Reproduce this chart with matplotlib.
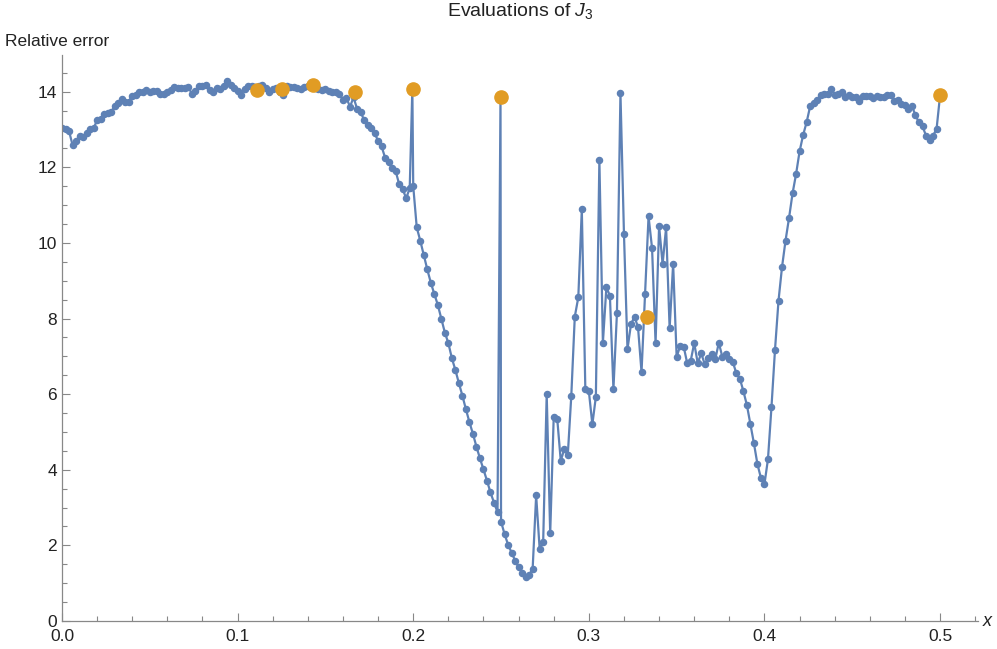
import numpy as np
import matplotlib
matplotlib.use('Agg')
import matplotlib.pyplot as plt
from matplotlib.ticker import MultipleLocator, FormatStrFormatter

plt.rcParams['font.family'] = ['Liberation Sans', 'DejaVu Sans']
plt.rcParams['mathtext.fontset'] = 'custom'
plt.rcParams['mathtext.rm'] = 'Liberation Sans'
plt.rcParams['mathtext.it'] = 'Liberation Sans:italic'

# blue samples on a 0.002 grid from 0 to 0.5
x_grid = np.linspace(0, 0.5, 251)
y_grid = [
    13.03, 13.0, 12.96, 12.59, 12.7, 12.83, 12.79, 12.9, 13.0, 13.03,
    13.25, 13.27, 13.41, 13.43, 13.46, 13.62, 13.7, 13.8, 13.74, 13.74,
    13.89, 13.92, 13.98, 13.98, 14.05, 13.98, 14.02, 14.03, 13.93, 13.94,
    14.0, 14.05, 14.12, 14.1, 14.1, 14.1, 14.12, 13.94, 14.03, 14.15,
    14.14, 14.18, 14.05, 13.99, 14.1, 14.08, 14.15, 14.27, 14.17, 14.1,
    14.02, 13.92, 14.08, 14.15, 14.15, 14.12, 14.16, 14.18, 14.11, 13.98,
    14.06, 14.1, 14.0, 13.9, 14.15, 14.12, 14.13, 14.1, 14.06, 14.12,
    14.14, 14.12, 14.1, 14.06, 14.05, 14.08, 14.02, 14.0, 13.98, 13.95,
    13.78, 13.83, 13.6, 13.85, 13.55, 13.47, 13.25, 13.12, 13.03, 12.9,
    12.7, 12.55, 12.25, 12.15, 11.97, 11.9, 11.55, 11.42, 11.18, 11.45,
    11.5, 10.41, 10.06, 9.68, 9.3, 8.95, 8.65, 8.36, 8.0, 7.63,
    7.35, 6.95, 6.64, 6.29, 5.96, 5.6, 5.26, 4.95, 4.61, 4.3,
    4.01, 3.71, 3.4, 3.13, 2.88, 2.63, 2.30, 2.02, 1.81, 1.6,
    1.42, 1.28, 1.17, 1.22, 1.38, 3.32, 1.9, 2.1, 6.0, 2.32,
    5.4, 5.35, 4.24, 4.54, 4.38, 5.95, 8.05, 8.56, 10.89, 6.14,
    6.08, 5.2, 5.93, 12.2, 7.36, 8.83, 8.6, 6.13, 8.14, 13.96,
    10.24, 7.19, 7.85, 8.05, 7.77, 6.58, 8.64, 10.7, 9.86, 7.35,
    10.45, 9.44, 10.41, 7.74, 9.45, 6.98, 7.28, 7.26, 6.82, 6.88,
    7.35, 6.82, 7.08, 6.79, 6.95, 7.06, 6.92, 7.36, 6.99, 7.06,
    6.92, 6.85, 6.55, 6.41, 6.08, 5.71, 5.2, 4.7, 4.15, 3.78,
    3.62, 4.28, 5.66, 7.17, 8.47, 9.36, 10.06, 10.66, 11.31, 11.82,
    12.42, 12.85, 13.19, 13.61, 13.7, 13.78, 13.9, 13.93, 13.93, 14.07,
    13.9, 13.93, 14.0, 13.87, 13.92, 13.85, 13.87, 13.76, 13.89, 13.89,
    13.89, 13.83, 13.89, 13.85, 13.85, 13.9, 13.92, 13.76, 13.78, 13.67,
    13.65, 13.54, 13.62, 13.37, 13.19, 13.08, 12.84, 12.71, 12.84, 13.01,
    13.9,
]

# extra samples at the spikes near 1/5 and 1/4
x_extra = [0.1995, 0.2497]
y_extra = [14.07, 13.87]

# highlighted evaluations at unit fractions
x_frac = [1/9, 1/8, 1/7, 1/6, 1/5, 1/4, 1/3, 1/2]
y_frac = [14.05, 14.08, 14.17, 14.0, 14.07, 13.87, 8.03, 13.9]

xs = np.concatenate([x_grid, x_extra])
ys = np.concatenate([y_grid, y_extra])
order = np.argsort(xs, kind='stable')
xs, ys = xs[order], ys[order]

blue = '#5E81B5'
orange = '#E19C24'
axis_gray = '#888888'

fig = plt.figure(figsize=(9.97, 6.49), dpi=100)
ax = fig.add_axes([62/997, 28/649, 916/997, 566/649])

ax.plot(xs, ys, color=blue, lw=1.6, marker='o', ms=4.4, mec=blue, mfc=blue, zorder=2)
ax.plot(x_frac, y_frac, ls='none', marker='o', ms=9.5, color=orange, mec=orange, zorder=3)

ax.set_xlim(0, 0.5216)
ax.set_ylim(0, 14.97)

for side in ['top', 'right']:
    ax.spines[side].set_visible(False)
for side in ['left', 'bottom']:
    ax.spines[side].set_color(axis_gray)
    ax.spines[side].set_linewidth(0.9)

ax.xaxis.set_major_locator(MultipleLocator(0.1))
ax.xaxis.set_minor_locator(MultipleLocator(0.02))
ax.yaxis.set_major_locator(MultipleLocator(2))
ax.yaxis.set_minor_locator(MultipleLocator(0.5))
ax.xaxis.set_major_formatter(FormatStrFormatter('%.1f'))
ax.tick_params(which='both', direction='in', color=axis_gray, labelsize=12.5,
               labelcolor='#222222', width=0.8)
ax.tick_params(which='major', length=6)
ax.tick_params(which='minor', length=3.5)
ax.tick_params(axis='x', pad=6)

ax.set_title(r'Evaluations of $J_3$', fontsize=14, color='#222222', pad=28)
fig.text(5/997, 1 - 41/649, 'Relative error', fontsize=12.5, color='#222222',
         va='center', ha='left')
fig.text(983/997, 1 - 622/649, 'x', fontsize=13, style='italic', color='#222222',
         va='center', ha='left')

fig.savefig('out.png', dpi=100)
